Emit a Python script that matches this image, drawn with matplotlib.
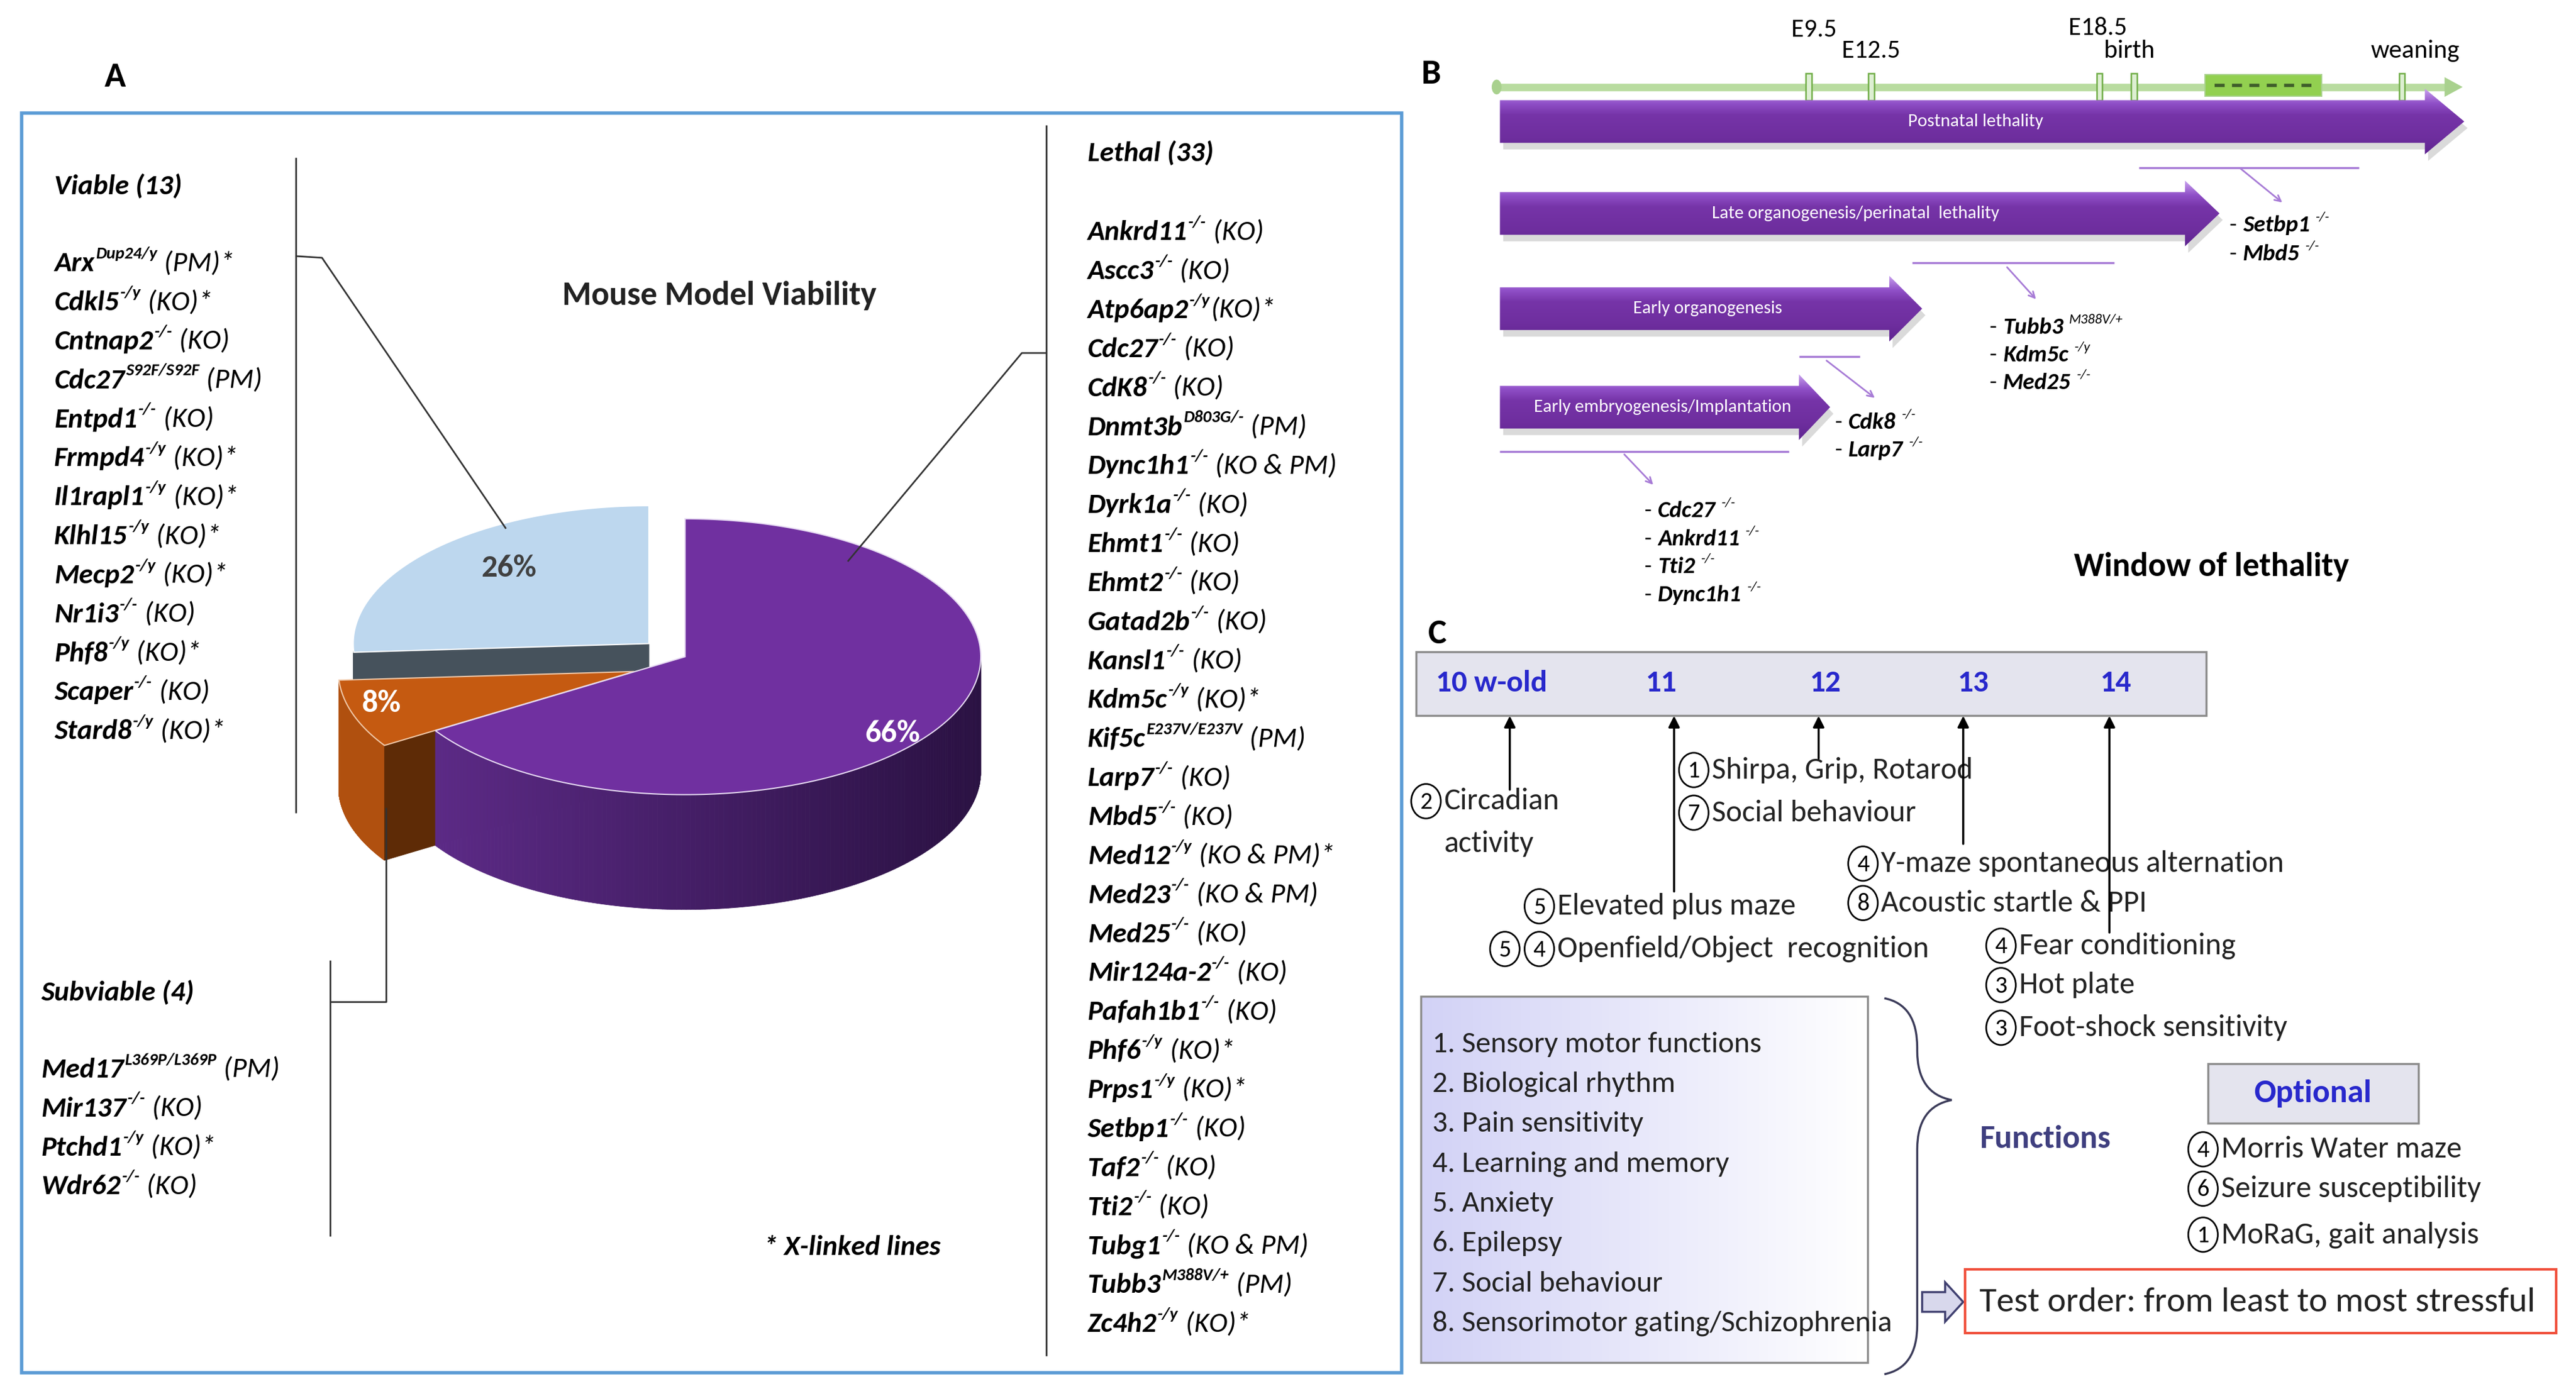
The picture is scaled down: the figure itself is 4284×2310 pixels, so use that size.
import numpy as np
import matplotlib
matplotlib.use("Agg")
import matplotlib.pyplot as plt
from matplotlib import font_manager
from matplotlib.patches import Polygon, Rectangle, Ellipse, PathPatch
from matplotlib.path import Path
from matplotlib.colors import LinearSegmentedColormap, to_rgb

names = {f.name for f in font_manager.fontManager.ttflist}
cands = ["Carlito", "Liberation Sans Narrow", "Roboto Condensed", "Lato", "Liberation Sans"]
FONT = [c for c in cands if c in names][0]
plt.rcParams["font.family"] = [FONT, "DejaVu Sans"]

# ---------------- data ----------------
pie_values = [66, 8, 26]
pie_pct = ["66%", "8%", "26%"]

viable_title = "Viable (13)"
viable_genes = ["Arx", "Cdkl5", "Cntnap2", "Cdc27", "Entpd1", "Frmpd4", "Il1rapl1",
                "Klhl15", "Mecp2", "Nr1i3", "Phf8", "Scaper", "Stard8"]
viable_sups = ["Dup24/y", "-/y", "-/-", "S92F/S92F", "-/-", "-/y", "-/y",
               "-/y", "-/y", "-/-", "-/y", "-/-", "-/y"]
viable_notes = [" (PM)*", " (KO)*", " (KO)", " (PM)", " (KO)", " (KO)*", " (KO)*",
                " (KO)*", " (KO)*", " (KO)", " (KO)*", " (KO)", " (KO)*"]

subviable_title = "Subviable (4)"
subviable_genes = ["Med17", "Mir137", "Ptchd1", "Wdr62"]
subviable_sups = ["L369P/L369P", "-/-", "-/y", "-/-"]
subviable_notes = [" (PM)", " (KO)", " (KO)*", " (KO)"]

lethal_title = "Lethal (33)"
lethal_genes = ["Ankrd11", "Ascc3", "Atp6ap2", "Cdc27", "CdK8", "Dnmt3b", "Dync1h1",
                "Dyrk1a", "Ehmt1", "Ehmt2", "Gatad2b", "Kansl1", "Kdm5c", "Kif5c",
                "Larp7", "Mbd5", "Med12", "Med23", "Med25", "Mir124a-2", "Pafah1b1",
                "Phf6", "Prps1", "Setbp1", "Taf2", "Tti2", "Tubg1", "Tubb3", "Zc4h2"]
lethal_sups = ["-/-", "-/-", "-/y", "-/-", "-/-", "D803G/-", "-/-", "-/-", "-/-", "-/-",
               "-/-", "-/-", "-/y", "E237V/E237V", "-/-", "-/-", "-/y", "-/-", "-/-",
               "-/-", "-/-", "-/y", "-/y", "-/-", "-/-", "-/-", "-/-", "M388V/+", "-/y"]
lethal_notes = [" (KO)", " (KO)", "(KO)*", " (KO)", " (KO)", " (PM)", " (KO & PM)",
                " (KO)", " (KO)", " (KO)", " (KO)", " (KO)", " (KO)*", " (PM)", " (KO)",
                " (KO)", " (KO & PM)*", " (KO & PM)", " (KO)", " (KO)", " (KO)", " (KO)*",
                " (KO)*", " (KO)", " (KO)", " (KO)", " (KO & PM)", " (PM)", " (KO)*"]

stages = ["E9.5", "E12.5", "E18.5", "birth", "weaning"]
windows = ["Postnatal lethality", "Late organogenesis/perinatal  lethality",
           "Early organogenesis", "Early embryogenesis/Implantation"]
window_genes = [["Setbp1", "Mbd5"], ["Tubb3", "Kdm5c", "Med25"], ["Cdk8", "Larp7"],
                ["Cdc27", "Ankrd11", "Tti2", "Dync1h1"]]
window_sups = [["-/-", "-/-"], ["M388V/+", "-/y", "-/-"], ["-/-", "-/-"],
               ["-/-", "-/-", "-/-", "-/-"]]

weeks = ["10 w-old", "11", "12", "13", "14"]
test_nums = [["2"], ["1"], ["7"], ["4"], ["8"], ["5"], ["5", "4"], ["4"], ["3"], ["3"]]
test_names = ["Circadian\nactivity", "Shirpa, Grip, Rotarod", "Social behaviour",
              "Y-maze spontaneous alternation", "Acoustic startle & PPI",
              "Elevated plus maze", "Openfield/Object  recognition",
              "Fear conditioning", "Hot plate", "Foot-shock sensitivity"]
functions = ["Sensory motor functions", "Biological rhythm", "Pain sensitivity",
             "Learning and memory", "Anxiety", "Epilepsy", "Social behaviour",
             "Sensorimotor gating/Schizophrenia"]
optional_nums = ["4", "6", "1"]
optional_names = ["Morris Water maze", "Seizure susceptibility", "MoRaG, gait analysis"]

# ---------------- canvas ----------------
W, H = 1568, 846
fig = plt.figure(figsize=(42.84, 23.10), dpi=100)
ax = fig.add_axes([0, 0, 1, 1])
ax.set_xlim(0, W)
ax.set_ylim(H, 0)
ax.set_autoscale_on(False)
ax.axis("off")
R = fig.canvas.get_renderer()
U = 2310 / H * 0.72  # points per layout unit
K = 1.0 if FONT in ("Carlito", "Liberation Sans Narrow", "Roboto Condensed") else 0.92


def fs(x):
    return x * K


def rich(x, yc, parts, size, color="black"):
    size = fs(size)
    base = yc + 0.36 * size / U
    for s, weight, style, sup in parts:
        f = size * 0.6 if sup else size
        y = base - 0.45 * size / U if sup else base
        t = ax.text(x, y, s, fontsize=f, fontweight=weight, fontstyle=style,
                    va="baseline", ha="left", color=color, zorder=5)
        bb = t.get_window_extent(R)
        x = ax.transData.inverted().transform((bb.x1, bb.y0))[0] + (0.3 if sup else 0.6)
    return x


def mix(c0, c1, f):
    a, b = np.array(to_rgb(c0)), np.array(to_rgb(c1))
    return tuple(a + (b - a) * min(max(f, 0), 1))


def line(xs, ys, color="#333333", lw=2.0, z=6):
    ax.plot(xs, ys, color=color, lw=lw, zorder=z, solid_capstyle="butt")


# ================= panel A =================
ax.text(70, 47, "A", fontsize=fs(42), fontweight="bold", ha="center", va="center")
ax.add_patch(Rectangle((13, 69), 840, 767, fill=False, ec="#5B9BD5", lw=4, zorder=1))
ax.text(438, 180, "Mouse Model Viability", fontsize=fs(40), fontweight="bold",
        ha="center", va="center", color="#222222")

# 3D pie
CX, CY, RX, RY, DEPTH = 417, 400, 180, 84, 70
top_cols = ["#7030A0", "#C55A11", "#BDD7EE"]
wall_cols = [("#602C8C", "#2A1142"), ("#B0500F", "#9A440C"), ("#44505A", "#44505A")]
face_cols = ["#3A1558", "#5E2B06", "#46525C"]
edge_cols = ["#E6DAF2", "#F0C8A8", "#FFFFFF"]
shifts = [(0, 0), (-31, 9), (-22, -8)]
pct_cols = ["white", "white", "#404040"]
pct_r = [(0.8, 1.15), (0.9, 0.75), (0.65, 0.8)]


def ept(t, dx, dy):
    r = np.radians(t)
    return CX + dx + RX * np.cos(r), CY + dy - RY * np.sin(r)


total = float(sum(pie_values))
spans = []
start = 90.0
for v in pie_values:
    end = start - 360.0 * v / total
    spans.append((end, start))
    start = end

for i in [2, 1, 0]:
    lo, hi = spans[i]
    dx, dy = shifts[i]
    c = (CX + dx, CY + dy)
    ts = np.linspace(lo, hi, 260)
    vis = np.sin(np.radians(ts)) < 0
    for k in range(len(ts) - 1):
        if vis[k] and vis[k + 1]:
            xa, ya = ept(ts[k], dx, dy)
            xb, yb = ept(ts[k + 1], dx, dy)
            col = mix(wall_cols[i][0], wall_cols[i][1], ((xa + xb) / 2 - (CX - RX)) / (2 * RX))
            ax.add_patch(Polygon([(xa, ya), (xb, yb), (xb, yb + DEPTH), (xa, ya + DEPTH)],
                                 fc=col, ec=col, lw=0.6, zorder=2))
    for t, ok in ((hi, np.cos(np.radians(hi)) < -1e-6), (lo, np.cos(np.radians(lo)) > 1e-6)):
        if ok:
            px, py = ept(t, dx, dy)
            ax.add_patch(Polygon([c, (px, py), (px, py + DEPTH), (c[0], c[1] + DEPTH)],
                                 fc=face_cols[i], ec=face_cols[i], lw=0.6, zorder=2))
    arc = [ept(t, dx, dy) for t in np.linspace(lo, hi, 200)]
    ax.add_patch(Polygon([c] + arc, fc=top_cols[i], ec=edge_cols[i], lw=1.5, zorder=2))
    mid = np.radians((lo + hi) / 2)
    ax.text(c[0] + pct_r[i][0] * RX * np.cos(mid), c[1] - pct_r[i][1] * RY * np.sin(mid),
            pie_pct[i], fontsize=fs(38), fontweight="bold", color=pct_cols[i],
            ha="center", va="center", zorder=3)

# gene lists
STEP = 23.75
GS = 34


def gene(x, y, g, s, n):
    rich(x, y, [(g, "bold", "italic", False), (s, "bold", "italic", True),
                (n, "normal", "italic", False)], GS)


rich(33, 112, [(viable_title, "bold", "italic", False)], GS)
for k, (g, s, n) in enumerate(zip(viable_genes, viable_sups, viable_notes)):
    gene(33, 159 + k * STEP, g, s, n)
rich(25, 603, [(subviable_title, "bold", "italic", False)], GS)
for k, (g, s, n) in enumerate(zip(subviable_genes, subviable_sups, subviable_notes)):
    gene(25, 650 + k * STEP, g, s, n)
rich(662, 92, [(lethal_title, "bold", "italic", False)], GS)
for k, (g, s, n) in enumerate(zip(lethal_genes, lethal_sups, lethal_notes)):
    gene(662, 140 + k * STEP, g, s, n)
rich(465, 758, [("* X-linked lines", "bold", "italic", False)], GS)

# separators and leaders
line([180, 180], [96, 495])
line([201, 201], [585, 753])
line([637, 637], [76, 826])
line([180, 196, 308], [156, 157, 322])
line([637, 622, 516], [215, 215, 342])
line([201, 235, 235], [610, 610, 492])

# ================= panel B =================
ax.text(871, 45, "B", fontsize=fs(42), fontweight="bold", ha="center", va="center")

# timeline
line([912, 1490], [53, 53], color="#B9DCA0", lw=9, z=2)
ax.add_patch(Ellipse((911, 53), 6, 9, fc="#A9D18E", ec="none", zorder=2))
ax.add_patch(Polygon([(1488, 47), (1499, 53), (1488, 59)], fc="#A9D18E", ec="none", zorder=2))
ax.add_patch(Rectangle((1342, 45.5), 71, 13, fc="#92D050", ec="#A9D18E", lw=1.5, zorder=3))
ax.plot([1348, 1407], [52, 52], ls=(0, (3, 2.2)), color="#3F5E2A", lw=4, zorder=4)
for x in [1101, 1139, 1278, 1299, 1462]:
    ax.add_patch(Rectangle((x - 1.7, 44.5), 3.4, 16.5, fc="#DDEFD2", ec="#70AD47", lw=1.8, zorder=3))
for s, (x, y) in zip(stages, [(1104, 18), (1139, 31), (1277, 17), (1296, 31), (1470, 31)]):
    ax.text(x, y, s, fontsize=fs(31), ha="center", va="center", color="black")

arrow_cmap = LinearSegmentedColormap.from_list(
    "arr", [(0, "#C9A2EE"), (0.22, "#9050C8"), (0.4, "#7634A8"), (0.75, "#6E2E9E"), (1, "#5E2490")])
grad = np.linspace(0, 1, 200).reshape(-1, 1)
arrow_geo = [(913, 1476, 1500, 74), (913, 1330, 1351, 130), (913, 1150, 1170, 188),
             (913, 1095, 1114, 248)]
for label, (x0, xh, xt, yc) in zip(windows, arrow_geo):
    bh, hh = 26, 40
    pts = [(x0, yc - bh / 2), (xh, yc - bh / 2), (xh, yc - hh / 2), (xt, yc),
           (xh, yc + hh / 2), (xh, yc + bh / 2), (x0, yc + bh / 2)]
    ax.add_patch(Polygon([(px + 2, py + 4) for px, py in pts], fc="#DADADA", ec="none", zorder=2))
    poly = Polygon(pts, fc="none", ec="none", zorder=3)
    ax.add_patch(poly)
    im = ax.imshow(grad, extent=(x0, xt, yc + hh / 2, yc - hh / 2), cmap=arrow_cmap,
                   aspect="auto", origin="upper", interpolation="bilinear", zorder=3)
    im.set_clip_path(poly)
    ax.text((x0 + xh) / 2 + 8, yc, label, fontsize=fs(22), color="white", ha="center",
            va="center", zorder=4)

pointer_geo = [((1302, 1436, 102), (1363, 102, 1390, 124)),
               ((1164, 1287, 160), (1221, 162, 1240, 183)),
               ((1095, 1132, 217), (1111, 219, 1142, 243)),
               ((913, 1089, 275), (988, 276, 1007, 296))]
for (xa, xb, yh), (x1, y1, x2, y2) in pointer_geo:
    line([xa, xb], [yh, yh], color="#A77BD6", lw=2.5, z=3)
    ax.annotate("", xy=(x2, y2), xytext=(x1, y1),
                arrowprops=dict(arrowstyle="->", color="#A77BD6", lw=2, mutation_scale=18), zorder=3)

list_geo = [(1357, 136, 17.5), (1211, 198, 17), (1117, 256, 17), (1001, 310, 17)]
for genes, sups, (x, y0, dy) in zip(window_genes, window_sups, list_geo):
    for k, (g, s) in enumerate(zip(genes, sups)):
        xx = rich(x, y0 + k * dy, [("- ", "normal", "normal", False), (g, "bold", "italic", False)], 28)
        rich(xx + 3, y0 + k * dy, [(s, "normal", "italic", True)], 28)

ax.text(1346, 345, "Window of lethality", fontsize=fs(40), fontweight="bold", ha="center", va="center")

# ================= panel C =================
ax.text(875, 386, "C", fontsize=fs(42), fontweight="bold", ha="center", va="center")
ax.add_patch(Rectangle((862, 397), 481, 39, fc="#E4E4EE", ec="#8C8C8C", lw=2.5, zorder=2))
BLUE = "#2828CC"
for s, x in zip(weeks, [908, 1011, 1111, 1201, 1288]):
    ax.text(x, 416, s, fontsize=fs(37), fontweight="bold", color=BLUE, ha="center", va="center", zorder=3)

CS = fs(36.5)


def circled(x, y, d):
    ax.add_patch(Ellipse((x, y), 18, 21, fill=False, ec="black", lw=2, zorder=4))
    ax.text(x, y + 0.5, d, fontsize=CS * 0.8, ha="center", va="center", zorder=4)


test_geo = [(868, 488), (1031, 469), (1031, 495), (1134, 526), (1134, 550), (937, 552),
            (916, 578), (1218, 576), (1218, 600), (1218, 626)]
for nums, name, (x, y) in zip(test_nums, test_names, test_geo):
    for j, d in enumerate(nums):
        circled(x + j * 21, y, d)
    tx = x + (len(nums) - 1) * 21 + 11
    for j, part in enumerate(name.split("\n")):
        ax.text(tx, y + j * 26, part, fontsize=CS, ha="left", va="center", color="#222222", zorder=4)

for x, yb in zip([919, 1019, 1107, 1195, 1284], [481, 543, 462, 514, 568]):
    ax.annotate("", xy=(x, 436), xytext=(x, yb),
                arrowprops=dict(arrowstyle="-|>", color="black", lw=2.5, mutation_scale=28,
                                shrinkA=0, shrinkB=0), zorder=6)

# functions box with gradient
fbox = Rectangle((865, 607), 272, 223, fc="none", ec="#8C8C8C", lw=2.5, zorder=3)
ax.add_patch(fbox)
fcmap = LinearSegmentedColormap.from_list("f", ["#D2D2F6", "#FFFFFF"])
im = ax.imshow(np.linspace(0, 1, 200).reshape(1, -1), extent=(865, 1137, 830, 607), cmap=fcmap,
               aspect="auto", origin="upper", zorder=2)
im.set_clip_path(fbox)
for k, f in enumerate(functions):
    ax.text(872, 636 + k * 24.3, f"{k + 1}. {f}", fontsize=fs(36), ha="left", va="center",
            color="#222222", zorder=4)

# curly brace
bx, top, bot, tipy, tipx = 1147, 608, 837, 670, 1188
verts = [(bx, top), (bx + 20, top + 4), (bx + 20, top + 30), (bx + 20, tipy - 30),
         (bx + 20, tipy - 4), (tipx, tipy), (bx + 20, tipy + 4), (bx + 20, tipy + 30),
         (bx + 20, bot - 30), (bx + 20, bot - 4), (bx, bot)]
codes = [Path.MOVETO, Path.CURVE3, Path.CURVE3, Path.LINETO, Path.CURVE3, Path.CURVE3,
         Path.CURVE3, Path.CURVE3, Path.LINETO, Path.CURVE3, Path.CURVE3]
ax.add_patch(PathPatch(Path(verts, codes), fill=False, ec="#3C3C5A", lw=2.5, zorder=4))

ax.text(1245, 694, "Functions", fontsize=fs(39), fontweight="bold", color="#3F3F7F",
        ha="center", va="center")
ax.add_patch(Rectangle((1344, 648), 128, 36, fc="#E4E4EE", ec="#8C8C8C", lw=2.5, zorder=2))
ax.text(1408, 666, "Optional", fontsize=fs(39), fontweight="bold", color=BLUE, ha="center", va="center")
for d, name, y in zip(optional_nums, optional_names, [700, 724, 752]):
    circled(1341, y, d)
    ax.text(1352, y, name, fontsize=CS, ha="left", va="center", color="#222222", zorder=4)

# hollow arrow and red box
ax.add_patch(Polygon([(1170, 787), (1184, 787), (1184, 781), (1195, 793), (1184, 805),
                      (1184, 799), (1170, 799)], fc="#D8D8EC", ec="#404070", lw=2.5, zorder=3))
ax.add_patch(Rectangle((1196, 773), 360, 39, fc="white", ec="#F0503C", lw=3, zorder=3))
ax.text(1205, 793, "Test order: from least to most stressful", fontsize=fs(42), ha="left",
        va="center", color="#222222", zorder=4)

fig.savefig("out.png", dpi=100)
